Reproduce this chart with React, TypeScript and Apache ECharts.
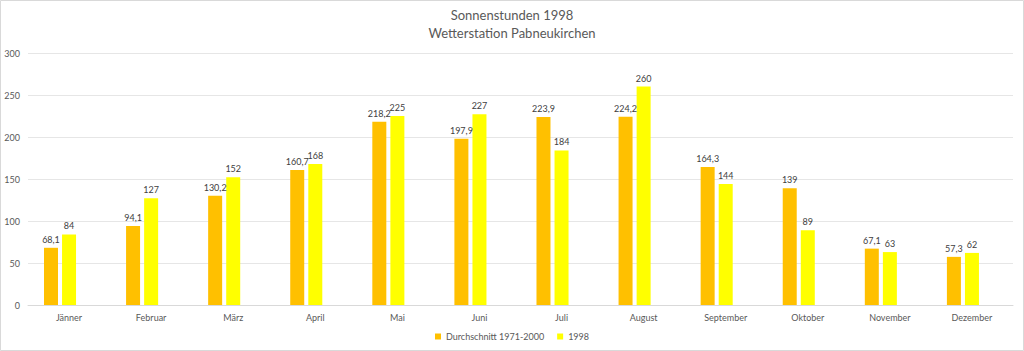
import React, { useEffect, useRef } from "react";
import * as echarts from "echarts";

const months = ["Jänner", "Februar", "März", "April", "Mai", "Juni", "Juli", "August", "September", "Oktober", "November", "Dezember"];
const avg19712000 = [68.1, 94.1, 130.2, 160.7, 218.2, 197.9, 223.9, 224.2, 164.3, 139, 67.1, 57.3];
const year1998 = [84, 127, 152, 168, 225, 227, 184, 260, 144, 89, 63, 62];
// the original chart reserves room for a third, empty series (bars sit left of the category centre)
const emptySeries = months.map(() => null);
const seriesNames = ["Durchschnitt 1971-2000", "1998"];

const fmt = (v: number) => String(v).replace(".", ",");
const FONT = "Lato, 'Open Sans', sans-serif";

export default function App() {
  const ref = useRef<HTMLDivElement>(null);
  useEffect(() => {
    document.body.style.margin = "0";
    const chart = echarts.init(ref.current!, null, { renderer: "svg" });
    const label = {
      show: true,
      position: "top",
      distance: 4,
      color: "#404040",
      fontSize: 9,
      fontFamily: FONT,
      formatter: (p: any) => fmt(p.value),
    };
    chart.setOption({
      animation: false,
      backgroundColor: "#fff",
      textStyle: { fontFamily: FONT },
      title: {
        text: "Sonnenstunden 1998\nWetterstation Pabneukirchen",
        left: "center",
        top: 1,
        textStyle: { fontSize: 13, fontWeight: "normal", color: "#595959", lineHeight: 18, fontFamily: FONT },
      },
      graphic: [
        {
          type: "rect",
          shape: { x: 0.5, y: 0.5, width: 1023, height: 350 },
          style: { fill: "none", stroke: "#d9d9d9", lineWidth: 1 },
          silent: true,
        },
      ],
      legend: {
        bottom: 5,
        left: "center",
        itemWidth: 6,
        itemHeight: 6,
        itemGap: 13,
        icon: "rect",
        textStyle: { fontSize: 9, color: "#595959", fontFamily: FONT },
        data: seriesNames,
      },
      grid: { left: 28, right: 11, top: 53, bottom: 46 },
      xAxis: {
        type: "category",
        data: months,
        axisLine: { lineStyle: { color: "#d9d9d9" } },
        axisTick: { show: false },
        axisLabel: { color: "#595959", fontSize: 9, margin: 8, fontFamily: FONT },
      },
      yAxis: {
        type: "value",
        min: 0,
        max: 300,
        interval: 50,
        axisLine: { show: false },
        axisTick: { show: false },
        splitLine: { lineStyle: { color: "#e6e6e6" } },
        axisLabel: { color: "#595959", fontSize: 9, margin: 8, fontFamily: FONT },
      },
      series: [
        {
          name: seriesNames[0],
          type: "bar",
          data: avg19712000,
          barWidth: 14,
          barGap: "29%",
          itemStyle: { color: "#FFC000" },
          label,
        },
        {
          name: seriesNames[1],
          type: "bar",
          data: year1998,
          barWidth: 14,
          barGap: "29%",
          itemStyle: { color: "#FFFF00" },
          label,
        },
        {
          name: "_empty",
          type: "bar",
          data: emptySeries,
          barWidth: 14,
          barGap: "29%",
          silent: true,
        },
      ],
    });
    return () => chart.dispose();
  }, []);
  return <div ref={ref} style={{ position: "absolute", left: 0, top: 0, width: 1024, height: 351 }} />;
}
